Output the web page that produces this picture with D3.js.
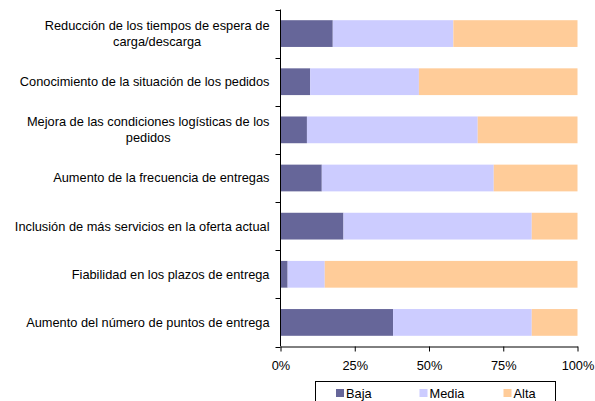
<!DOCTYPE html>
<html><head><meta charset="utf-8">
<script src="https://cdn.jsdelivr.net/npm/d3@7"></script>
<style>body{margin:0;background:#fff}text{font-family:"Liberation Sans",Arial,sans-serif}</style>
</head><body><svg id="c" width="595" height="401"></svg>
<script>
const categories = [
  ["Reducción de los tiempos de espera de", "carga/descarga"],
  ["Conocimiento de la situación de los pedidos"],
  ["Mejora de las condiciones logísticas de los", "pedidos"],
  ["Aumento de la frecuencia de entregas"],
  ["Inclusión de más servicios en la oferta actual"],
  ["Fiabilidad en los plazos de entrega"],
  ["Aumento del número de puntos de entrega"]
];
const seriesNames = ["Baja", "Media", "Alta"];
const baja  = [17.6, 10.0,  8.9, 13.9, 21.2,  2.4, 37.9];
const media = [40.6, 36.6, 57.5, 57.9, 63.4, 12.5, 46.7];
const alta  = [41.8, 53.4, 33.6, 28.2, 15.4, 85.1, 15.4];
const xTicks = [0, 25, 50, 75, 100];
const colors = ["#666699", "#CCCCFF", "#FFCC99"];

const FS = 12.8;
const svg = d3.select("#c");
const x = d3.scaleLinear().domain([0, 100]).range([280.5, 577.5]);
const idx = categories.map((d, i) => i);
const y = d3.scaleBand().domain(idx).range([9.5, 346.5]).paddingInner(0.8/1.8).paddingOuter(0.4/1.8);

const rows = idx.map(i => ({i, Baja: baja[i], Media: media[i], Alta: alta[i]}));
const stack = d3.stack().keys(seriesNames)(rows);

svg.append("g").selectAll("g").data(stack).join("g")
  .attr("fill", (d, k) => colors[k])
  .selectAll("rect").data(d => d).join("rect")
  .attr("x", d => x(d[0]))
  .attr("width", d => x(d[1]) - x(d[0]))
  .attr("y", d => y(d.data.i))
  .attr("height", y.bandwidth());

// y axis line and boundary ticks
const step = y.step();
const y0 = y.range()[0];
const g = svg.append("g").attr("stroke", "#000").attr("stroke-width", 1);
g.append("line").attr("x1", x(0)).attr("x2", x(0)).attr("y1", y0).attr("y2", y.range()[1]);
d3.range(categories.length + 1).forEach(k => {
  const yy = Math.round(y0 + k * step) + 0.5;
  g.append("line").attr("x1", x(0) - 5).attr("x2", x(0)).attr("y1", yy).attr("y2", yy);
});

// category labels
categories.forEach((lines, i) => {
  const cy = y(i) + y.bandwidth() / 2;
  const lh = 16;
  const t = svg.append("text").attr("font-size", FS).attr("fill", "#000")
    .attr("text-anchor", "middle");
  const tmp = svg.append("text").attr("font-size", FS);
  let maxW = 0;
  lines.forEach(l => { tmp.text(l); maxW = Math.max(maxW, tmp.node().getComputedTextLength()); });
  tmp.remove();
  const cx = 269.5 - maxW / 2;
  lines.forEach((l, j) => {
    t.append("tspan").attr("x", cx)
      .attr("y", cy + (j - (lines.length - 1) / 2) * lh)
      .attr("dy", "0.35em").text(l);
  });
});

// x axis
const xAxis = d3.axisBottom(x).tickValues(xTicks).tickFormat(d => d + "%").tickSize(5).tickSizeOuter(0);
const xg = svg.append("g").attr("transform", `translate(0,${y.range()[1]})`).call(xAxis);
xg.select(".domain").attr("stroke", "#000");
xg.selectAll(".tick line").attr("stroke", "#000");
xg.selectAll(".tick text").attr("font-size", FS).attr("fill", "#000")
  .attr("font-family", '"Liberation Sans",Arial,sans-serif').attr("y", 14);

// legend
const lg = svg.append("g");
lg.append("rect").attr("x", 315.5).attr("y", 381.5).attr("width", 240).attr("height", 30)
  .attr("fill", "#fff").attr("stroke", "#000");
const lx = [336, 419.5, 503.5];
seriesNames.forEach((s, k) => {
  lg.append("rect").attr("x", lx[k]).attr("y", 389).attr("width", 8).attr("height", 8).attr("fill", colors[k]);
  lg.append("text").attr("x", lx[k] + 10).attr("y", 393.5).attr("dy", "0.35em")
    .attr("font-size", FS).attr("fill", "#000").text(s);
});
</script></body></html>
